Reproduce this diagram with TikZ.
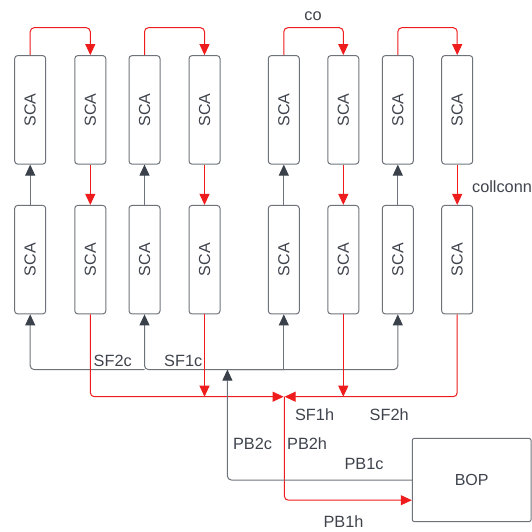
\documentclass[tikz,border=0pt]{standalone}
\usepackage{fontspec}
\setmainfont{Liberation Sans}
\usetikzlibrary{arrows.meta}
\definecolor{bord}{HTML}{6E737B}
\definecolor{txt}{HTML}{3E434C}
\definecolor{gline}{HTML}{6E737B}
\definecolor{garr}{HTML}{3A414A}
\definecolor{rline}{HTML}{EE1C1C}
\begin{document}
\begin{tikzpicture}[x=1pt,y=-1pt,
  sca/.style={draw=bord, line width=1pt, rounded corners=3pt, minimum width=31pt,
    minimum height=108.5pt, inner sep=0pt, text=txt, font=\fontsize{16}{18}\selectfont},
  bopbox/.style={draw=bord, line width=1pt, rounded corners=2pt, minimum width=118.7pt,
    minimum height=83.2pt, inner sep=0pt, text=txt, font=\fontsize{16}{18}\selectfont},
  lbl/.style={text=txt, inner sep=0pt, font=\fontsize{16.3}{18}\selectfont},
  hot/.style={draw=rline, line width=1pt, rounded corners=4pt,
    -{Triangle[length=11pt,width=10pt,color=rline]}},
  cold/.style={draw=gline, line width=1pt, rounded corners=4pt,
    -{Triangle[length=11pt,width=10pt,color=garr]}}]
\useasboundingbox (0,0) rectangle (532,531);
% boxes
\foreach \i/\x in {1/30.2,2/90.3,3/144.5,4/204.5,5/283.8,6/343.3,7/397.8,8/457.2}{
  \node[sca] (t\i) at (\x,109.85) {\rotatebox{90}{SCA}};
  \node[sca] (b\i) at (\x,259.65) {\rotatebox{90}{SCA}};
}
\node[bopbox] (bop) at (471.65,480) {BOP};
% top crossovers
\foreach \a/\b in {1/2,3/4,5/6,7/8}{
  \draw[hot] (t\a.north) -- ++(0,-27.4) -| (t\b.north);
}
% between rows
\foreach \i in {1,3,5,7}{ \draw[cold] (b\i.north) -- (t\i.south); }
\foreach \i in {2,4,6,8}{ \draw[hot] (t\i.south) -- (b\i.north); }
% cold header
\coordinate (c3) at (144.5,369.6);
\coordinate (c5) at (283.8,369.6);
\coordinate (cm) at (227.4,369.6);
\draw[cold] (c3) -| (b1.south);
\draw[cold] (c5) -| (b3.south);
\draw[cold] (c5) -- (b5.south);
\draw[cold] (cm) -| (b7.south);
% hot header
\coordinate (jn) at (284.4,396.7);
\coordinate (jL) at (283.6,396.7);
\coordinate (jR) at (284.6,396.7);
\draw[hot] (b2.south) |- (jL);
\draw[hot] (b8.south) |- (jR);
\draw[hot] (b4.south) -- (b4.south |- jn);
\draw[hot] (b6.south) -- (b6.south |- jn);
% BOP loops
\draw[hot] (jn) |- ([yshift=-20.2pt]bop.west);
\draw[cold] (bop.west) -| (cm);
% labels
\node[lbl] (lco) at (313,16) {co};
\node[lbl] (lcc) at (502,187) {collconn};
\node[lbl] (lsf2c) at (112.7,360.4) {SF2c};
\node[lbl] (lsf1c) at (183.2,360.4) {SF1c};
\node[lbl] (lsf1h) at (314.6,414.7) {SF1h};
\node[lbl] (lsf2h) at (389.2,414.7) {SF2h};
\node[lbl] (lpb2c) at (252.5,443.9) {PB2c};
\node[lbl] (lpb2h) at (307.1,443.9) {PB2h};
\node[lbl] (lpb1c) at (364.1,464.2) {PB1c};
\node[lbl] (lpb1h) at (343.5,522) {PB1h};
\end{tikzpicture}
\end{document}
